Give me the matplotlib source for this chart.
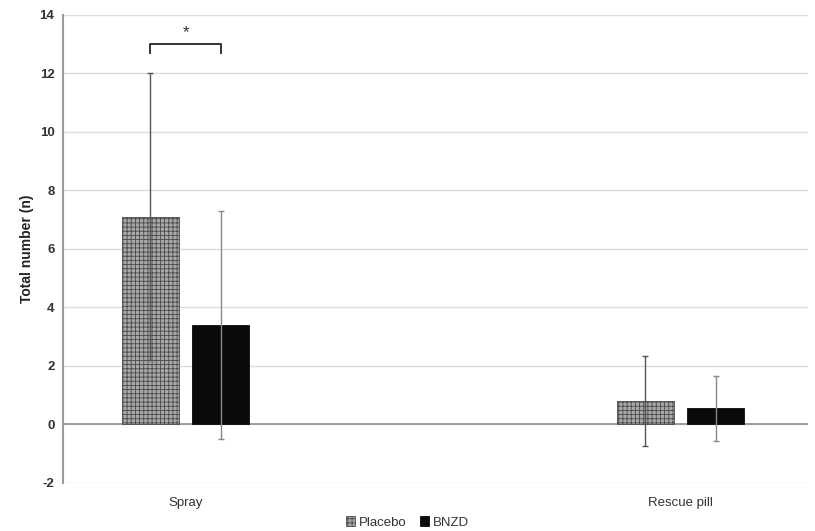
import numpy as np
import matplotlib.pyplot as plt

categories = ["Spray", "Rescue pill"]
placebo_mean = [7.1, 0.8]
placebo_sd = [4.9, 1.55]
bnzd_mean = [3.4, 0.55]
bnzd_sd = [3.9, 1.12]

plt.rcParams['font.family'] = ['Liberation Sans', 'DejaVu Sans']
plt.rcParams['hatch.linewidth'] = 0.6
plt.rcParams['axes.unicode_minus'] = False

fig = plt.figure(figsize=(8.15, 5.31), dpi=100)
ax = fig.add_axes([0.077, 0.0904, 0.914, 0.8814])

x = np.arange(len(categories))
w = 0.115
off = 0.071

ax.bar(x - off, placebo_mean, w, color='#a8a8a8', edgecolor='#4a4a4a', hatch='++++',
       linewidth=0.6, label='Placebo', zorder=3)
ax.bar(x + off, bnzd_mean, w, color='#0a0a0a', edgecolor='#0a0a0a', linewidth=0.6,
       label='BNZD', zorder=3)
ax.errorbar(x - off, placebo_mean, yerr=placebo_sd, fmt='none', ecolor='#555555',
            elinewidth=1.0, capsize=2, capthick=1.0, zorder=4)
ax.errorbar(x + off, bnzd_mean, yerr=bnzd_sd, fmt='none', ecolor='#888888',
            elinewidth=1.0, capsize=2, capthick=1.0, zorder=4)

# significance bracket
bx1, bx2 = x[0] - off, x[0] + off
ax.plot([bx1, bx1, bx2, bx2], [12.7, 13.0, 13.0, 12.7], color='#333333', lw=1.4, zorder=5)
ax.text(x[0], 13.15, '*', ha='center', va='bottom', fontsize=12, color='#333333')

ax.set_ylim(-2, 14)
ax.set_yticks(np.arange(-2, 15, 2))
ax.set_xlim(-0.248, 1.257)
ax.set_xticks(x)
ax.set_xticklabels(categories)
ax.tick_params(axis='both', length=0, labelsize=9.5, colors='#333333', pad=6)
ax.tick_params(axis='x', pad=10)
for lab in ax.get_yticklabels():
    lab.set_fontweight('bold')

ax.grid(axis='y', color='#dcdcdc', lw=1.0, zorder=0)
ax.axhline(0, color='#999999', lw=1.3, zorder=2)
for s in ['top', 'right', 'bottom']:
    ax.spines[s].set_visible(False)
ax.spines['left'].set_color('#9a9a9a')
ax.spines['left'].set_linewidth(1.5)

ax.set_ylabel('Total number (n)', fontsize=10, fontweight='bold', color='#222222', labelpad=4)

leg = fig.legend(loc='lower center', bbox_to_anchor=(0.5, -0.018), ncol=2, frameon=False,
                 fontsize=9.5, handlelength=0.7, handleheight=0.7, handletextpad=0.3,
                 columnspacing=1.0)
for t in leg.get_texts():
    t.set_color('#333333')

fig.savefig('out.png', dpi=100)
